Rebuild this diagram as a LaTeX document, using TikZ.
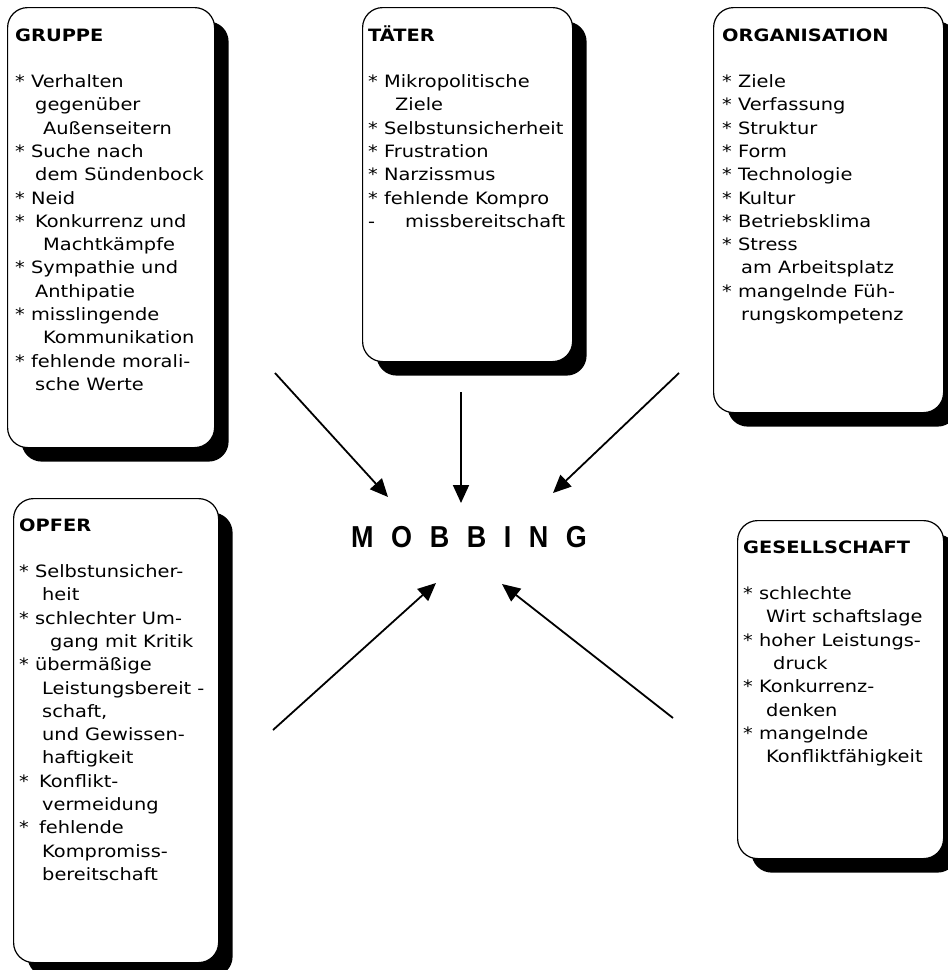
\documentclass[tikz,border=0pt]{standalone}
\usepackage{fontspec}
\setmainfont{DejaVu Sans}[FakeStretch=1.14]
\newfontfamily\mobfont{Liberation Sans}[FakeStretch=0.89,LetterSpace=58]
\usetikzlibrary{arrows.meta,shadows}

\begin{document}
\begin{tikzpicture}[x=1pt,y=-1pt,
    card/.style={draw,line width=1.2pt,fill=white,rounded corners=20pt,anchor=north west,
      drop shadow={shadow xshift=14pt,shadow yshift=-14pt,fill=black,opacity=1}},
    items/.style={anchor=north west,inner sep=0pt,align=left,font=\fontsize{17}{23.3}\selectfont},
    pfeil/.style={line width=1.8pt,-{Triangle[length=18pt,width=16pt]}}]
  \useasboundingbox (0,0) rectangle (948,970);

  % Kaesten
  \node [card,minimum width=207pt,minimum height=440pt] (g) at (7,7) {};
  \node [card,minimum width=210pt,minimum height=354pt] (t) at (362,7) {};
  \node [card,minimum width=230pt,minimum height=405pt] (o) at (713,7) {};
  \node [card,minimum width=205pt,minimum height=464pt] (f) at (13,498) {};
  \node [card,minimum width=206pt,minimum height=338pt] (s) at (737,520) {};

  \node [items] (g-txt) at ([shift={(8,18)}]g.north west) {\rule{0pt}{16pt}\textbf{GRUPPE}\\[23pt]
    * Verhalten\\
    \hspace*{20pt}gegenüber\\
    \hspace*{28pt}Außenseitern\\
    * Suche nach\\
    \hspace*{20pt}dem Sündenbock\\
    * Neid\\
    *\hspace{4pt} Konkurrenz und\\
    \hspace*{28pt}Machtkämpfe\\
    * Sympathie und\\
    \hspace*{20pt}Anthipatie\\
    * misslingende\\
    \hspace*{28pt}Kommunikation\\
    * fehlende morali-\\
    \hspace*{20pt}sche Werte};
  \node [items] (t-txt) at ([shift={(6,18)}]t.north west) {\rule{0pt}{16pt}\textbf{TÄTER}\\[23pt]
    * Mikropolitische\\
    \hspace*{27pt}Ziele\\
    * Selbstunsicherheit\\
    * Frustration\\
    * Narzissmus\\
    * fehlende Kompro\\
    -\hspace{30pt}missbereitschaft};
  \node [items] (o-txt) at ([shift={(9,18)}]o.north west) {\rule{0pt}{16pt}\textbf{ORGANISATION}\\[23pt]
    * Ziele\\
    * Verfassung\\
    * Struktur\\
    * Form\\
    * Technologie\\
    * Kultur\\
    * Betriebsklima\\
    * Stress\\
    \hspace*{19pt}am Arbeitsplatz\\
    * mangelnde Füh-\\
    \hspace*{19pt}rungskompetenz};
  \node [items] (f-txt) at ([shift={(6,17)}]f.north west) {\rule{0pt}{16pt}\textbf{OPFER}\\[23pt]
    * Selbstunsicher-\\
    \hspace*{23pt}heit\\
    * schlechter Um-\\
    \hspace*{31pt}gang mit Kritik\\
    * übermäßige\\
    \hspace*{23pt}Leistungsbereit -\\
    \hspace*{23pt}schaft,\\
    \hspace*{23pt}und Gewissen-\\
    \hspace*{23pt}haftigkeit\\
    *\hspace{4pt} Konflikt-\\
    \hspace*{23pt}vermeidung\\
    *\hspace{4pt} fehlende\\
    \hspace*{23pt}Kompromiss-\\
    \hspace*{23pt}bereitschaft};
  \node [items] (s-txt) at ([shift={(6,17)}]s.north west) {\rule{0pt}{16pt}\textbf{GESELLSCHAFT}\\[23pt]
    * schlechte\\
    \hspace*{23pt}Wirt schaftslage\\
    * hoher Leistungs-\\
    \hspace*{30pt}druck\\
    * Konkurrenz-\\
    \hspace*{23pt}denken\\
    * mangelnde\\
    \hspace*{23pt}Konfliktfähigkeit};

  % Mitte
  \node [anchor=base west,inner sep=0pt,font={\mobfont\bfseries\fontsize{30.3}{31}\selectfont}] (mob) at (351,547) {MOBBING};

  % Pfeile
  \coordinate (g-a) at (275,373); \coordinate (g-b) at (388,497);
  \coordinate (t-a) at (461,392); \coordinate (t-b) at (461,503);
  \coordinate (o-a) at (679,373); \coordinate (o-b) at (553,493);
  \coordinate (f-a) at (273,730); \coordinate (f-b) at (436,583);
  \coordinate (s-a) at (673,718); \coordinate (s-b) at (502,584);
  \draw [pfeil] (g-a) -- (g-b);
  \draw [pfeil] (t-a) -- (t-b);
  \draw [pfeil] (o-a) -- (o-b);
  \draw [pfeil] (f-a) -- (f-b);
  \draw [pfeil] (s-a) -- (s-b);
\end{tikzpicture}
\end{document}
